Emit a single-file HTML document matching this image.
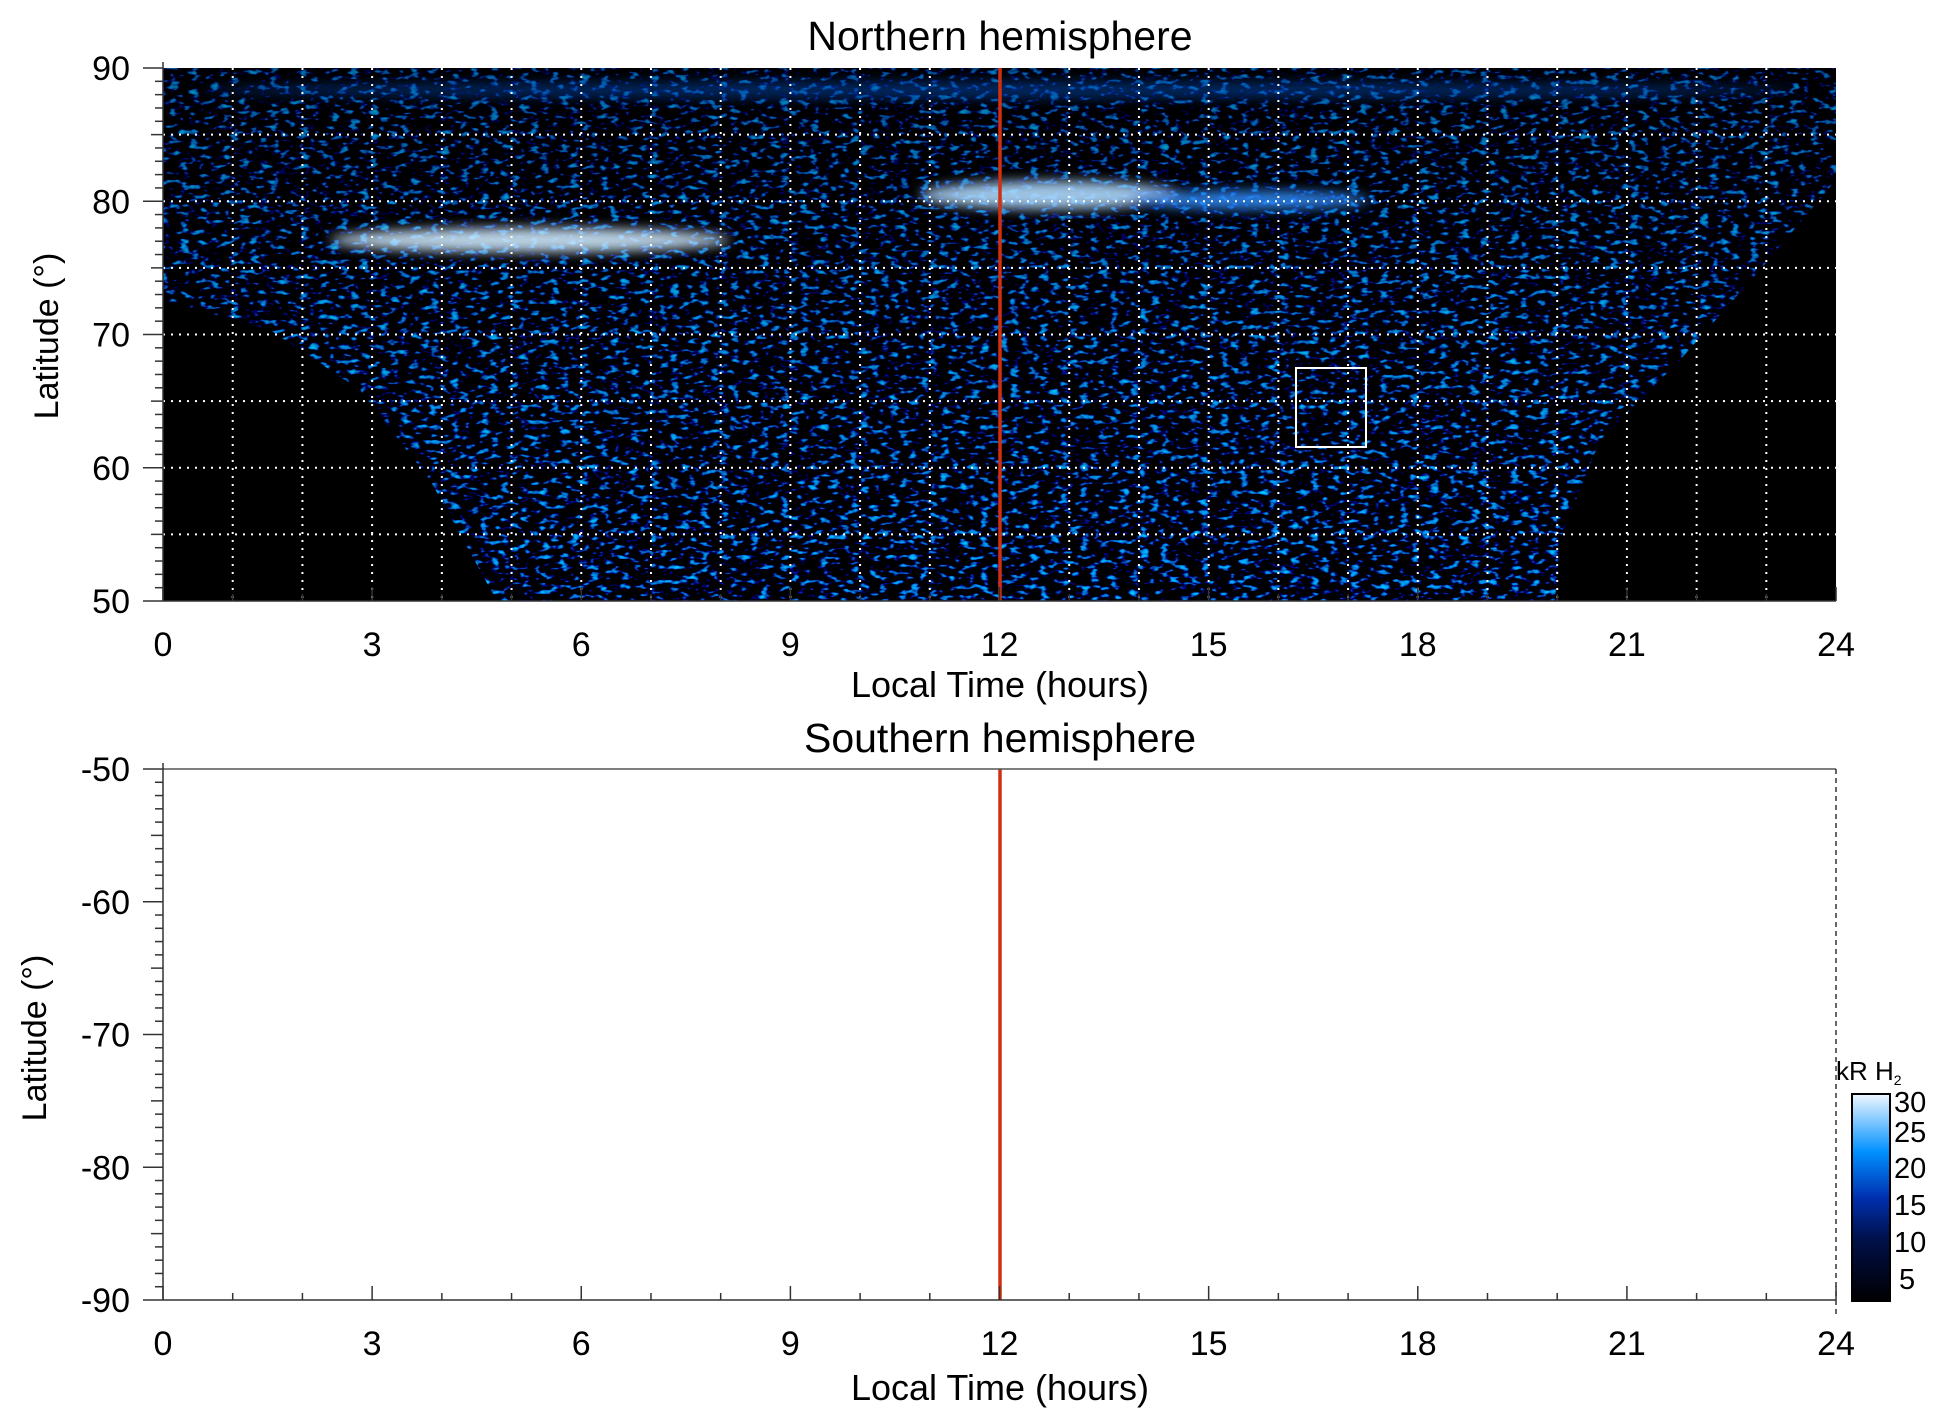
<!DOCTYPE html>
<html><head><meta charset="utf-8"><style>
body{margin:0;background:#fff;}
svg{display:block;font-family:"Liberation Sans",sans-serif;}
</style></head><body>
<svg id="s" width="1950" height="1423" viewBox="0 0 1950 1423">
<defs>
<filter id="nz" x="0" y="0" width="100%" height="100%">
<feTurbulence type="fractalNoise" baseFrequency="0.1 0.2" numOctaves="2" seed="4"/>
<feColorMatrix values="0 0 0 0 0  2.4 0 0 0 -1.45  4.5 0 0 0 -2.45  0 0 0 0 1"/>
</filter>
<filter id="bl"><feGaussianBlur stdDeviation="6"/></filter>
<linearGradient id="cb" x1="0" y1="1" x2="0" y2="0">
<stop offset="0" stop-color="#000"/><stop offset="0.3" stop-color="#00104a"/>
<stop offset="0.5" stop-color="#0030b0"/><stop offset="0.72" stop-color="#0090ff"/>
<stop offset="1" stop-color="#f0f8ff"/></linearGradient>
<linearGradient id="fade" x1="0" y1="0" x2="0" y2="1">
<stop offset="0" stop-color="#000" stop-opacity="0.35"/><stop offset="0.4" stop-color="#000" stop-opacity="0.15"/><stop offset="1" stop-color="#000" stop-opacity="0"/></linearGradient>
<clipPath id="cp"><rect x="163" y="68" width="1673" height="533"/></clipPath>
<clipPath id="reg"><path d="M497,601 L430,480 L360,390 L270,330 L163,300 L163,68 L1836,68 L1836,180 L1760,270 L1680,360 L1600,440 L1560,540 L1555,601 Z"/></clipPath>
</defs>
<rect x="163" y="68" width="1673" height="533" fill="#000"/>
<g clip-path="url(#cp)">
<g clip-path="url(#reg)"><rect x="163" y="68" width="1673" height="533" filter="url(#nz)"/></g>
<rect x="163" y="68" width="1673" height="533" fill="url(#fade)"/>
<g filter="url(#bl)" opacity="0.9">
<ellipse cx="530" cy="240" rx="200" ry="12" fill="#d0ecff"/>
<ellipse cx="1050" cy="195" rx="130" ry="14" fill="#b0dcff"/>
<ellipse cx="1250" cy="200" rx="120" ry="9" fill="#3090ff"/>
<ellipse cx="1000" cy="90" rx="800" ry="8" fill="#0050c0" opacity="0.6"/>
</g>
</g>
<g id="grid" stroke="#fff" stroke-width="2" stroke-dasharray="2,6"></g>
<rect x="1296" y="368" width="70" height="79" fill="none" stroke="#fff" stroke-width="2"/>
<line x1="1000" y1="68" x2="1000" y2="601" stroke="#d03010" stroke-width="3.5"/>
<line x1="1000" y1="769" x2="1000" y2="1300" stroke="#d03010" stroke-width="3.5"/>
<line x1="163" y1="769" x2="1836" y2="769" stroke="#555" stroke-width="1.5"/>
<line x1="1836" y1="769" x2="1836" y2="1314" stroke="#333" stroke-width="1.5" stroke-dasharray="5,4"/>
<g id="ax" stroke="#333" stroke-width="1.5"></g>
<g id="tx" font-size="34" fill="#000"></g>
<text x="1000" y="50" font-size="41" text-anchor="middle">Northern hemisphere</text>
<text x="1000" y="752" font-size="41" text-anchor="middle">Southern hemisphere</text>
<text x="1000" y="697" font-size="36" text-anchor="middle">Local Time (hours)</text>
<text x="1000" y="1400" font-size="36" text-anchor="middle">Local Time (hours)</text>
<text transform="translate(58,336) rotate(-90)" font-size="34" text-anchor="middle">Latitude (°)</text>
<text transform="translate(46,1038) rotate(-90)" font-size="34" text-anchor="middle">Latitude (°)</text>
<rect x="1852" y="1094" width="38" height="207" fill="url(#cb)" stroke="#000" stroke-width="2"/>
<text x="1836" y="1080" font-size="26">kR H<tspan font-size="14" dy="5">2</tspan></text>
<g font-size="29"><text x="1894" y="1112">30</text><text x="1894" y="1142">25</text><text x="1894" y="1178">20</text><text x="1894" y="1215">15</text><text x="1894" y="1252">10</text><text x="1899" y="1289">5</text></g>
</svg>
<script>
var NS="http://www.w3.org/2000/svg";
function el(p,t,a,txt){var e=document.createElementNS(NS,t);for(var k in a)e.setAttribute(k,a[k]);if(txt!==undefined)e.textContent=txt;document.getElementById(p).appendChild(e);}
function X(h){return 163+h*69.71;}
for(var h=1;h<24;h++)el("grid","line",{x1:X(h),y1:68,x2:X(h),y2:601});
for(var l=55;l<90;l+=5){var y=601-(l-50)*13.325;el("grid","line",{x1:163,y1:y,x2:1836,y2:y});}
[[68,601,50],[769,1300,-90]].forEach(function(p,i){
 var top=p[0],bot=p[1];
 el("ax","line",{x1:163,y1:top-6,x2:163,y2:bot});
 el("ax","line",{x1:163,y1:bot,x2:1836,y2:bot});
 for(var k=0;k<=40;k++){var y=bot-k*(bot-top)/40;var w=(k%10==0)?20:(k%5==0?12:8);
  el("ax","line",{x1:163,y1:y,x2:163-w,y2:y});
  if(k%10==0){var v=p[2]+k;el("tx","text",{x:130,y:y+12,"text-anchor":"end"},v);}}
 for(var h=0;h<=24;h++){var w=(h%3==0)?14:7;el("ax","line",{x1:X(h),y1:bot,x2:X(h),y2:bot-w});
  if(h%3==0)el("tx","text",{x:X(h),y:bot+55,"text-anchor":"middle"},h);}
});
</script>
</body></html>
